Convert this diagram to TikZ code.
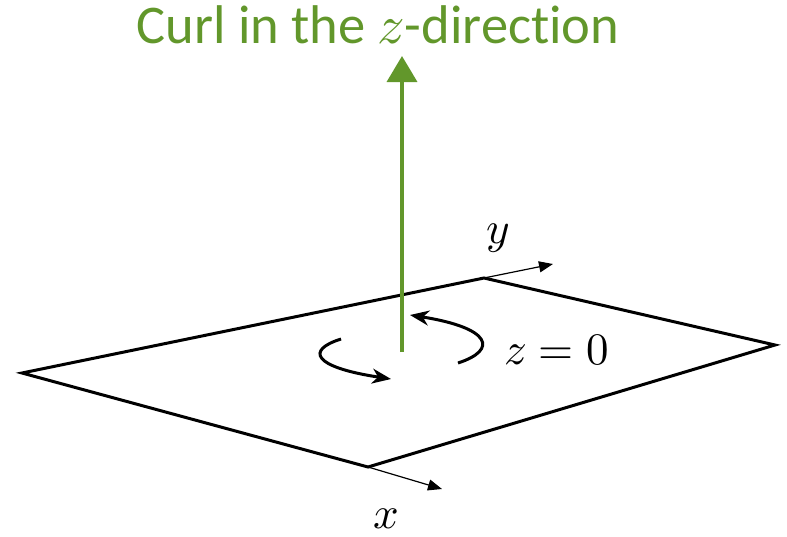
\documentclass[tikz,border=0pt]{standalone}
\usepackage{fontspec}
\usepackage{unicode-math}
\setmainfont{Carlito}[Ligatures=NoCommon]
\setmathfont{Latin Modern Math}
\usetikzlibrary{arrows.meta}
\definecolor{curlgreen}{RGB}{98,151,43}
\tikzset{
  edge/.style={line width=3pt, line join=miter},
  axis/.style={line width=1.2pt, -{Triangle[length=14pt,width=11pt]}},
  turn/.style={line width=3pt, -{Stealth[length=19pt,width=15pt,inset=6pt]}},
  mathlabel/.style={font=\fontsize{45}{50}\selectfont, inner sep=0pt},
}
\begin{document}
\begin{tikzpicture}[x=1pt,y=-1pt]
\useasboundingbox (0,0) rectangle (787,536);
\coordinate (L) at (22,373);
\coordinate (T) at (484,278);
\coordinate (R) at (775,345);
\coordinate (B) at (368,467);
\draw[edge] (L) -- (T) -- (R) -- (B) -- cycle;
% axes
\coordinate (yend) at (553,264);
\coordinate (xend) at (442,489);
\draw[axis] (T) -- (yend);
\draw[axis] (B) -- (xend);
\node[mathlabel] (ylab) at (498,238) {$y$};
\node[mathlabel] (xlab) at (386,519) {$x$};
\node[mathlabel, anchor=west] (zlab) at (504,350) {$z=0$};
% green arrow
\coordinate (gbase) at (402,352);
\coordinate (gtip) at (402,56);
\draw[curlgreen, line width=3.6pt, -{Triangle[length=26pt,width=30pt]}] (gbase) -- (gtip);
\node[text=curlgreen, font=\fontsize{54.5}{60}\selectfont, inner sep=0pt] (title) at (378,25) {Curl in the $z$-direction};
% curved arrows
\coordinate (a1s) at (341,339);
\coordinate (a1e) at (391,379);
\coordinate (a2s) at (458,363);
\coordinate (a2e) at (410,315);
\draw[turn] (a1s) .. controls (306,350) and (312,367) .. (a1e);
\draw[turn] (a2s) .. controls (498,350) and (492,328) .. (a2e);
\end{tikzpicture}
\end{document}
